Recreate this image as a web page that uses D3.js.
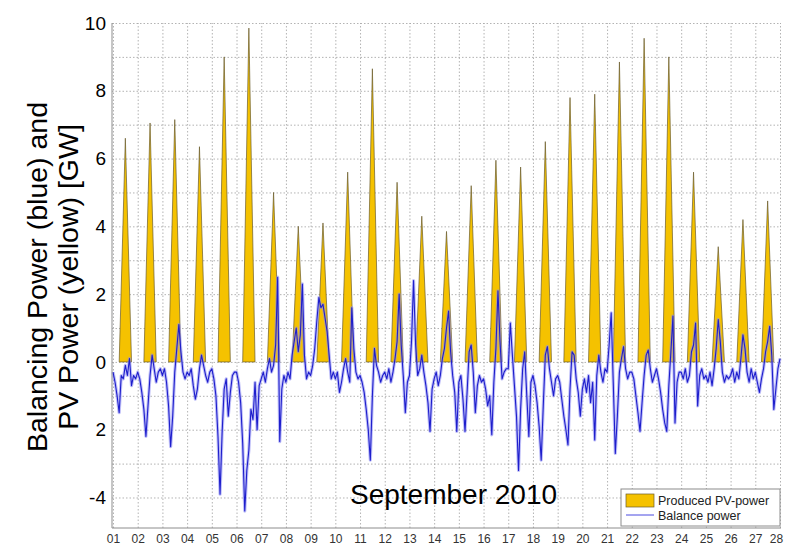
<!DOCTYPE html>
<html>
<head>
<meta charset="utf-8">
<script src="https://cdn.jsdelivr.net/npm/d3@7"></script>
<style>
  html, body { margin: 0; padding: 0; background: #fff; }
  svg { display: block; font-family: "Liberation Sans", Arial, sans-serif; }
</style>
</head>
<body>
<div id="graph"></div>
<script>
const svgw = 785
const svgh = 546

// day labels along the bottom
const dayLabels = ['01','02','03','04','05','06','07','08','09','10','11','12','13','14',
    '15','16','17','18','19','20','21','22','23','24','25','26','27','28']

// y ticks (the original prints "2" where -2 belongs)
const yTickValues = [10, 8, 6, 4, 2, 0, -2, -4]
const yTickLabels = ['10', '8', '6', '4', '2', '0', '2', '-4']

// daily peak of produced PV power [GW], days 1..27
const pvPeak = [6.6, 7.05, 7.15, 6.35, 9.0, 9.85, 5.0, 4.0, 4.1, 5.6, 8.65, 5.3, 4.3, 3.85,
    5.2, 5.95, 5.75, 6.5, 7.8, 7.9, 8.85, 9.55, 9.0, 5.6, 3.4, 4.2, 4.75]
// sunrise / sunset as fraction of the day
const pvStart = 0.25
const pvEnd = 0.75

// balance power [GW], one row per day, every 2 hours (00,02,...,22)
const balance = [
    [-0.3, -0.6, -1.0, -1.5, -0.4, -0.5, -0.1, -0.4, 0.1, -0.7, -0.4, -0.5],
    [-0.3, -0.5, -0.9, -1.4, -2.2, -1.3, -0.4, 0.2, -0.2, -0.6, -0.3, -0.2],
    [-0.4, -0.2, -0.6, -1.3, -2.5, -1.6, -0.3, 0.4, 1.1, 0.3, -0.3, -0.5],
    [-0.3, -0.4, -0.2, -0.7, -1.1, -0.8, -0.2, 0.2, -0.1, -0.4, -0.6, -0.3],
    [-0.2, -0.5, -1.0, -2.2, -3.9, -2.1, -0.8, -0.5, -1.6, -0.9, -0.4, -0.3],
    [-0.3, -0.6, -1.2, -2.4, -4.4, -3.2, -2.6, -1.4, -1.7, -0.6, -2.0, -0.7],
    [-0.5, -0.3, -0.6, -0.2, 0.1, -0.3, -0.1, 0.5, 2.5, -2.35, -0.8, -0.4],
    [-0.6, -0.3, -0.5, 0.2, 0.6, 1.0, 0.3, 0.8, 2.3, 0.2, -0.5, -0.3],
    [-0.4, -0.1, 0.4, 1.2, 1.9, 1.6, 1.7, 1.3, 0.9, 0.2, -0.5, -0.3],
    [-0.5, -0.3, -0.9, -0.6, -0.2, 0.1, -0.3, -0.6, 1.6, 0.4, -0.3, -0.5],
    [-0.4, -0.6, -0.9, -1.4, -2.0, -2.9, -1.0, 0.4, -0.1, -0.3, -0.6, -0.4],
    [-0.3, -0.5, -0.2, -0.6, -0.3, 0.1, 0.6, 2.0, 0.5, -0.4, -1.5, -0.6],
    [-0.4, 0.6, 2.4, 0.5, -0.4, -0.2, 0.2, -0.3, -0.7, -1.2, -2.05, -0.8],
    [-0.5, -0.3, -0.7, -0.4, 0.1, 0.4, 1.0, 1.5, 0.3, -0.4, -0.9, -2.05],
    [-0.6, -0.4, -1.1, -2.05, -0.9, 0.3, 0.5, -0.3, -1.5, -0.7, -0.4, -0.6],
    [-0.5, -0.8, -1.3, -1.0, -2.15, -0.6, 0.4, 2.1, 0.6, -0.5, -0.3, -0.2],
    [-0.2, 1.15, 0.2, -0.7, -1.6, -3.2, -1.4, -0.2, 0.3, -1.0, -2.2, -0.6],
    [-0.4, -0.7, -1.2, -1.9, -2.9, -1.3, 0.2, 0.45, -0.2, -0.6, -1.0, -0.5],
    [-0.4, -0.6, -1.1, -1.6, -2.0, -2.45, -0.8, 0.3, 0.2, -0.5, -0.9, -1.6],
    [-0.8, -0.5, -0.9, -0.4, -1.2, -0.6, -2.3, -0.4, 0.2, -0.3, -0.6, -0.2],
    [-0.3, 0.5, 1.45, -0.6, -2.7, -1.6, -0.3, 0.1, 0.45, -0.2, -0.5, -0.3],
    [-0.3, -0.5, -1.0, -1.5, -2.05, -1.2, -0.4, 0.2, 0.35, -0.2, -0.6, -0.4],
    [-0.2, -0.5, -0.9, -1.4, -1.8, -2.05, -0.7, 0.3, 1.35, -1.8, -0.6, -0.3],
    [-0.3, -0.5, -0.2, -0.6, -0.4, 0.3, 0.5, 1.15, -1.3, -0.4, -0.2, -0.5],
    [-0.4, -0.6, -0.3, -0.7, -0.2, 0.4, 1.25, 0.6, -0.3, -0.6, -0.4, -0.5],
    [-0.4, -0.2, -0.6, -0.3, -0.5, 0.1, 0.8, 0.4, -0.3, -0.6, -0.2, -0.5],
    [-0.3, -0.6, -0.9, -0.5, -0.2, 0.3, 0.6, 1.05, 0.2, -1.4, -0.8, -0.2]
]
const balanceLast = 0.1

const svg = d3.select('#graph')
    .append('svg')
    .attr('width', svgw)
    .attr('height', svgh)

const xScale = d3.scaleLinear().domain([1, 28]).range([113, 780])
const yScale = d3.scaleLinear().domain([-4.9, 10]).range([528, 23])
const plotLeft = 112, plotRight = 781, plotTop = 23, plotBottom = 528

// horizontal grid every 1 GW
const hGrid = d3.axisLeft(yScale)
    .tickValues(d3.range(-4, 11))
    .tickSize(-(plotRight - plotLeft))
    .tickFormat('')
svg.append('g')
    .attr('class', 'grid')
    .attr('transform', `translate(${plotLeft},0)`)
    .call(hGrid)

// vertical grid every day
const vGrid = d3.axisBottom(xScale)
    .tickValues(d3.range(1, 29))
    .tickSize(-(plotBottom - plotTop))
    .tickFormat('')
svg.append('g')
    .attr('class', 'grid')
    .attr('transform', `translate(0,${plotBottom})`)
    .call(vGrid)

svg.selectAll('.grid .domain').remove()
svg.selectAll('.grid line')
    .attr('stroke', '#a0a0a0')
    .attr('stroke-width', 0.8)
    .attr('stroke-dasharray', '1.5,2')

// PV production, one spike per day
const pvArea = d3.area()
    .x(d => xScale(d[0]))
    .y0(yScale(0))
    .y1(d => yScale(d[1]))

pvPeak.forEach((p, i) => {
    const day = i + 1
    const pts = [[day + pvStart, 0], [day + 0.5, p], [day + pvEnd, 0]]
    svg.append('path')
        .datum(pts)
        .attr('d', pvArea)
        .attr('fill', '#f5c200')
        .attr('stroke', '#6a5c2c')
        .attr('stroke-width', 0.7)
        .attr('stroke-linejoin', 'round')
})

// balance power line
const balancePts = []
balance.forEach((row, i) => {
    row.forEach((v, j) => balancePts.push([i + 1 + j / 12, v]))
})
balancePts.push([28, balanceLast])

const line = d3.line()
    .x(d => xScale(d[0]))
    .y(d => yScale(d[1]))

svg.append('path')
    .datum(balancePts)
    .attr('d', line)
    .attr('fill', 'none')
    .attr('stroke', '#8a8af2')
    .attr('stroke-width', 3.2)
    .attr('stroke-opacity', 0.55)
    .attr('stroke-linejoin', 'round')

svg.append('path')
    .datum(balancePts)
    .attr('d', line)
    .attr('fill', 'none')
    .attr('stroke', '#1e1ecc')
    .attr('stroke-width', 1.1)
    .attr('stroke-linejoin', 'round')

// frame: left and bottom
svg.append('line')
    .attr('x1', plotLeft).attr('x2', plotLeft).attr('y1', plotTop).attr('y2', plotBottom)
    .attr('stroke', '#8c8c8c').attr('stroke-width', 1)
svg.append('line')
    .attr('x1', plotLeft).attr('x2', plotRight).attr('y1', plotBottom).attr('y2', plotBottom)
    .attr('stroke', '#8c8c8c').attr('stroke-width', 1)

// y axis labels
const yAxis = d3.axisLeft(yScale)
    .tickValues(yTickValues)
    .tickFormat((d, i) => yTickLabels[i])
    .tickSize(0)
    .tickPadding(6)
svg.append('g')
    .attr('id', 'y-axis')
    .attr('transform', `translate(${plotLeft},0)`)
    .call(yAxis)
svg.select('#y-axis .domain').remove()
svg.selectAll('#y-axis text')
    .attr('font-size', 19)
    .attr('font-family', '"Liberation Sans", Arial, sans-serif')
    .attr('fill', '#000')

// x axis labels
const xAxis = d3.axisBottom(xScale)
    .tickValues(d3.range(1, 29))
    .tickFormat((d, i) => dayLabels[i])
    .tickSize(0)
    .tickPadding(6)
svg.append('g')
    .attr('id', 'x-axis')
    .attr('transform', `translate(0,${plotBottom})`)
    .call(xAxis)
svg.select('#x-axis .domain').remove()
svg.selectAll('#x-axis text')
    .attr('font-size', 12)
    .attr('font-family', '"Liberation Sans", Arial, sans-serif')
    .attr('fill', '#333')
    .attr('dx', (d, i) => i === dayLabels.length - 1 ? -4 : 0)

// y title, two lines
const yTitle = ['Balancing Power (blue) and', 'PV Power (yellow) [GW]']
const yTitleX = [47, 78]
yTitle.forEach((t, i) => {
    svg.append('text')
        .attr('transform', `translate(${yTitleX[i]},277) rotate(-90)`)
        .attr('text-anchor', 'middle')
        .attr('font-size', 28.5)
        .attr('fill', '#000')
        .text(t)
})

svg.append('text')
    .attr('x', 350)
    .attr('y', 504)
    .attr('font-size', 28)
    .attr('fill', '#000')
    .text('September 2010')

// legend
const legend = svg.append('g').attr('transform', 'translate(621,489)')
legend.append('rect')
    .attr('width', 159).attr('height', 37)
    .attr('fill', '#fff')
    .attr('stroke', '#8c8c8c')
legend.append('rect')
    .attr('x', 5).attr('y', 5).attr('width', 28).attr('height', 13)
    .attr('fill', '#f5c200').attr('stroke', '#6a5c2c').attr('stroke-width', 0.7)
legend.append('line')
    .attr('x1', 5).attr('x2', 33).attr('y1', 26).attr('y2', 26)
    .attr('stroke', '#4a4ae0').attr('stroke-width', 1)
legend.append('text')
    .attr('x', 37).attr('y', 16)
    .attr('font-size', 12.5).attr('fill', '#222')
    .text('Produced PV-power')
legend.append('text')
    .attr('x', 37).attr('y', 31)
    .attr('font-size', 12.5).attr('fill', '#222')
    .text('Balance power')
</script>
</body>
</html>
